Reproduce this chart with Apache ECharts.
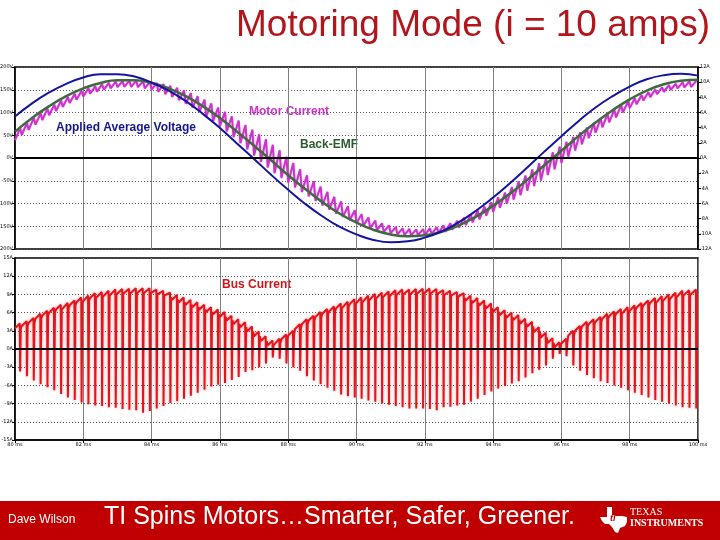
<!DOCTYPE html>
<html lang="en">
<head>
<meta charset="UTF-8">
<title>Motoring Mode</title>
<script src="https://cdn.jsdelivr.net/npm/echarts@6/dist/echarts.min.js"></script>
<style>
  body { margin: 0; background: #fff; }
  #main { width: 720px; height: 540px; }
</style>
</head>
<body>
<div id="main"></div>
<script type="text/javascript">
// sample times (ms) for the smooth curves
var sampleTimes = [80, 80.5, 81, 81.5, 82, 82.5, 83, 83.5, 84, 84.5, 85, 85.5, 86, 86.5, 87, 87.5, 88, 88.5, 89, 89.5,
    90, 90.5, 91, 91.5, 92, 92.5, 93, 93.5, 94, 94.5, 95, 95.5, 96, 96.5, 97, 97.5, 98, 98.5, 99, 99.5, 100];
// applied average voltage (V)
var appliedVoltage = [91, 120, 144, 163, 177, 184, 184, 179, 166, 148, 125, 97, 66, 32, -2, -37, -70, -101, -128, -151,
    -168, -180, -185, -183, -175, -161, -141, -116, -87, -55, -21, 14, 48, 81, 111, 136, 157, 173, 182, 185, 181];
// back-EMF (V)
var backEmf = [58, 88, 114, 136, 153, 165, 171, 171, 165, 153, 136, 114, 88, 58, 27, -5, -38, -68, -97, -122,
    -142, -158, -168, -172, -170, -162, -148, -129, -105, -78, -48, -16, 16, 48, 78, 105, 129, 148, 162, 170, 172];

// one value per PWM period (0.2 ms), starting at 80 ms
var pwmStart = 80;
var pwmPeriod = 0.2;
// motor current (A), mean of each period
var motorCurrent = [3.15, 3.84, 4.50, 5.15, 5.76, 6.34, 6.89, 7.39, 7.86, 8.27, 8.65, 8.97, 9.24, 9.46, 9.63, 9.74, 9.79, 9.79, 9.74, 9.63,
    9.46, 9.24, 8.97, 8.65, 8.27, 7.86, 7.39, 6.89, 6.34, 5.76, 5.15, 4.50, 3.84, 3.15, 2.44, 1.72, 0.98, 0.25, -0.49, -1.23,
    -1.96, -2.68, -3.38, -4.06, -4.72, -5.35, -5.96, -6.53, -7.06, -7.55, -8.00, -8.40, -8.76, -9.07, -9.32, -9.52, -9.67, -9.76, -9.80, -9.78,
    -9.71, -9.58, -9.39, -9.16, -8.87, -8.53, -8.14, -7.70, -7.23, -6.71, -6.15, -5.56, -4.93, -4.28, -3.61, -2.91, -2.20, -1.47, -0.74, 0.00,
    0.74, 1.47, 2.20, 2.91, 3.61, 4.28, 4.93, 5.56, 6.15, 6.71, 7.23, 7.70, 8.14, 8.53, 8.87, 9.16, 9.39, 9.58, 9.71, 9.78];
// half peak-to-peak ripple of the motor current (A)
var motorRipple = [0.8, 0.8, 0.8, 0.75, 0.75, 0.7, 0.7, 0.65, 0.6, 0.6, 0.55, 0.5, 0.5, 0.45, 0.45, 0.4, 0.4, 0.4, 0.4, 0.45,
    0.45, 0.5, 0.55, 0.6, 0.65, 0.7, 0.75, 0.8, 0.85, 0.9, 0.95, 1.0, 1.1, 1.2, 1.3, 1.4, 1.5, 1.5, 1.5, 1.4,
    1.3, 1.2, 1.1, 1.0, 0.95, 0.9, 0.85, 0.8, 0.7, 0.65, 0.6, 0.55, 0.5, 0.45, 0.45, 0.4, 0.4, 0.4, 0.4, 0.4,
    0.45, 0.45, 0.5, 0.55, 0.6, 0.65, 0.7, 0.8, 0.85, 0.9, 0.95, 1.0, 1.1, 1.2, 1.3, 1.4, 1.5, 1.5, 1.5, 1.5,
    1.4, 1.3, 1.2, 1.1, 1.0, 0.95, 0.9, 0.85, 0.8, 0.7, 0.65, 0.6, 0.55, 0.5, 0.45, 0.45, 0.4, 0.4, 0.4, 0.4];
// bus current (A): peak and dip in each period
var busTop = [4.2, 4.6, 5.1, 5.8, 6.3, 6.8, 7.3, 7.6, 8.0, 8.5, 8.8, 9.2, 9.4, 9.6, 9.8, 9.9, 9.95, 10.0, 10.0, 10.0,
    9.8, 9.6, 9.3, 8.9, 8.5, 8.1, 7.7, 7.3, 6.9, 6.5, 6.1, 5.5, 4.9, 4.4, 3.7, 2.9, 2.1, 1.4, 1.7, 2.4,
    3.0, 4.1, 4.9, 5.5, 6.1, 6.6, 7.0, 7.5, 7.8, 8.2, 8.5, 8.8, 9.1, 9.3, 9.5, 9.7, 9.8, 9.8, 9.9, 9.95,
    9.95, 9.9, 9.7, 9.6, 9.4, 9.2, 8.8, 8.4, 8.0, 7.5, 6.9, 6.4, 6.0, 5.6, 5.0, 4.5, 3.6, 2.7, 1.8, 1.1,
    1.7, 3.0, 3.8, 4.5, 4.9, 5.3, 5.8, 6.2, 6.6, 6.9, 7.2, 7.6, 8.0, 8.4, 8.7, 9.0, 9.3, 9.6, 9.7, 9.8];
var busBottom = [-3.7, -4.5, -5.2, -5.8, -6.3, -6.8, -7.4, -8.0, -8.4, -8.8, -9.1, -9.3, -9.4, -9.6, -9.7, -9.9, -10.0, -10.1, -10.5, -10.2,
    -9.8, -9.4, -8.9, -8.6, -8.2, -7.7, -7.2, -6.7, -6.2, -5.9, -5.6, -5.1, -4.6, -3.8, -3.5, -3.0, -2.4, -1.4, -1.6, -2.4,
    -3.0, -3.6, -4.5, -5.2, -5.8, -6.4, -6.9, -7.5, -7.8, -8.0, -8.2, -8.5, -8.7, -9.0, -9.2, -9.4, -9.6, -9.8, -9.8, -9.8,
    -9.9, -10.1, -9.6, -9.5, -9.3, -9.2, -8.7, -8.2, -7.6, -7.0, -6.5, -6.1, -5.7, -5.3, -4.7, -4.0, -3.4, -2.7, -1.6, -0.8,
    -1.2, -2.7, -3.6, -4.3, -4.8, -5.3, -5.6, -6.0, -6.4, -6.8, -7.2, -7.6, -8.0, -8.4, -8.7, -9.0, -9.3, -9.6, -9.7, -9.8];

var voltTicks = {min: -200, max: 200, step: 50};
var ampTicksTop = {min: -12, max: 12, step: 2};
var ampTicksBus = {min: -15, max: 15, step: 3};

var blueData = sampleTimes.map(function (t, i) { return [t, appliedVoltage[i]]; });
var greenData = sampleTimes.map(function (t, i) { return [t, backEmf[i]]; });

var motorData = [];
motorCurrent.forEach(function (c, k) {
    var t = pwmStart + k * pwmPeriod;
    motorData.push([t, c - motorRipple[k]]);
    motorData.push([t + 0.15, c + motorRipple[k]]);
});

var busData = [];
busTop.forEach(function (top, k) {
    var t = pwmStart + k * pwmPeriod;
    busData.push([t, top - 0.8]);
    busData.push([t + 0.14, top]);
    busData.push([t + 0.15, busBottom[k]]);
    busData.push([t + 0.17, top - 0.8]);
});

var tinyLabel = {fontSize: 5, color: '#000', fontFamily: 'DejaVu Sans', margin: 2};
var dotted = {show: true, lineStyle: {color: '#555', type: [1, 2], width: 1}};
var vGrid = {show: true, lineStyle: {color: '#808080', width: 1}};
var zeroLine = {
    silent: true, symbol: 'none', label: {show: false},
    lineStyle: {color: '#000', width: 2, type: 'solid'},
    data: [{yAxis: 0}]
};

var myChart = echarts.init(document.getElementById('main'));
myChart.setOption({
    animation: false,
    backgroundColor: '#fff',
    grid: [
        {left: 15, right: 22, top: 67, height: 182, outerBoundsMode: 'none', containLabel: false,
            show: true, borderColor: '#000', borderWidth: 1.5, backgroundColor: '#fff'},
        {left: 15, right: 22, top: 258, height: 182, outerBoundsMode: 'none', containLabel: false,
            show: true, borderColor: '#000', borderWidth: 1.5, backgroundColor: '#fff'}
    ],
    xAxis: [
        {type: 'value', gridIndex: 0, min: 80, max: 100, interval: 2,
            axisLabel: {show: false}, axisTick: {show: false}, axisLine: {show: false}, splitLine: vGrid},
        {type: 'value', gridIndex: 1, min: 80, max: 100, interval: 2,
            axisLabel: Object.assign({formatter: function (v) { return v + ' ms'; }}, tinyLabel),
            axisTick: {show: true, length: 3, lineStyle: {color: '#000'}},
            axisLine: {onZero: false, lineStyle: {color: '#000', width: 1.5}}, splitLine: vGrid}
    ],
    yAxis: [
        {type: 'value', gridIndex: 0, min: voltTicks.min, max: voltTicks.max, interval: voltTicks.step,
            axisLabel: Object.assign({formatter: function (v) { return v + 'V'; }}, tinyLabel),
            axisTick: {show: true, length: 3, lineStyle: {color: '#000'}},
            axisLine: {show: true, lineStyle: {color: '#000', width: 1.5}}, splitLine: dotted},
        {type: 'value', gridIndex: 0, position: 'right', min: ampTicksTop.min, max: ampTicksTop.max, interval: ampTicksTop.step,
            axisLabel: Object.assign({formatter: function (v) { return v + 'A'; }}, tinyLabel),
            axisTick: {show: true, length: 3, lineStyle: {color: '#000'}},
            axisLine: {show: true, lineStyle: {color: '#000', width: 1.5}}, splitLine: {show: false}},
        {type: 'value', gridIndex: 1, min: ampTicksBus.min, max: ampTicksBus.max, interval: ampTicksBus.step,
            axisLabel: Object.assign({formatter: function (v) { return v + 'A'; }}, tinyLabel),
            axisTick: {show: true, length: 3, lineStyle: {color: '#000'}},
            axisLine: {show: true, lineStyle: {color: '#000', width: 1.5}}, splitLine: dotted}
    ],
    series: [
        {name: 'Motor Current', type: 'line', xAxisIndex: 0, yAxisIndex: 1, data: motorData,
            showSymbol: false, lineStyle: {color: '#cc33cc', width: 2, shadowBlur: 2, shadowColor: 'rgba(220,120,220,0.6)'}},
        {name: 'Back-EMF', type: 'line', xAxisIndex: 0, yAxisIndex: 0, data: greenData, smooth: true,
            showSymbol: false, lineStyle: {color: '#3f6a3f', width: 2.5}},
        {name: 'Applied Average Voltage', type: 'line', xAxisIndex: 0, yAxisIndex: 0, data: blueData, smooth: true,
            showSymbol: false, lineStyle: {color: '#1414a0', width: 2}, markLine: zeroLine},
        {name: 'Bus Current', type: 'line', xAxisIndex: 1, yAxisIndex: 2, data: busData,
            showSymbol: false, lineStyle: {color: '#e3141c', width: 2, shadowBlur: 3, shadowColor: 'rgba(255,90,90,0.55)'},
            markLine: zeroLine}
    ],
    graphic: [
        {type: 'text', right: 10, top: 7, style: {text: 'Motoring Mode (i = 10 amps)', fill: '#b3151c',
            font: '37px "Liberation Sans", Arial, sans-serif'}},
        {type: 'text', left: 48, top: 119, style: {text: 'Applied Average Voltage', fill: '#15158f',
            font: 'bold 12px "Liberation Sans", Arial, sans-serif', backgroundColor: '#fff', padding: [3, 8, 3, 8]}},
        {type: 'text', left: 242, top: 104, style: {text: 'Motor Current', fill: '#cc33cc',
            font: 'bold 12px "Liberation Sans", Arial, sans-serif', backgroundColor: '#fff', padding: [2, 7, 2, 7]}},
        {type: 'text', left: 300, top: 137, style: {text: 'Back-EMF', fill: '#2d5a2d',
            font: 'bold 12px "Liberation Sans", Arial, sans-serif', backgroundColor: '#fff', padding: [2, 0, 2, 0]}},
        {type: 'text', left: 220, top: 277, style: {text: 'Bus Current', fill: '#d01418',
            font: 'bold 12px "Liberation Sans", Arial, sans-serif', backgroundColor: '#fff', padding: [2, 6, 2, 2]}},
        {type: 'rect', left: 0, top: 501, shape: {width: 720, height: 39}, style: {fill: '#c00000'}},
        {type: 'text', left: 8, top: 514, style: {text: 'Dave Wilson', fill: '#fff',
            font: '12px "Liberation Sans", Arial, sans-serif'}},
        {type: 'text', left: 104, top: 505, style: {text: 'TI Spins Motors\u2026Smarter, Safer, Greener.', fill: '#fff',
            font: '25px "Liberation Sans", Arial, sans-serif'}},
        {type: 'polygon', shape: {points: [[607, 507], [612, 507], [612, 515], [616, 516], [622, 516], [627, 517], [627, 522],
            [625, 526], [620, 528], [618, 533], [615, 532], [612, 527], [609, 524], [605, 524], [602, 521], [600, 517], [607, 517]]},
            style: {fill: '#fff'}},
        {type: 'text', left: 610, top: 514, style: {text: 'ti', fill: '#c00000', font: 'bold italic 9px "Liberation Sans", sans-serif'}},
        {type: 'text', left: 630, top: 507, style: {text: 'TEXAS', fill: '#fff', font: '10px "Liberation Serif", serif'}},
        {type: 'text', left: 630, top: 518, style: {text: 'INSTRUMENTS', fill: '#fff', font: 'bold 10px "Liberation Serif", serif'}}
    ]
});
</script>
</body>
</html>
